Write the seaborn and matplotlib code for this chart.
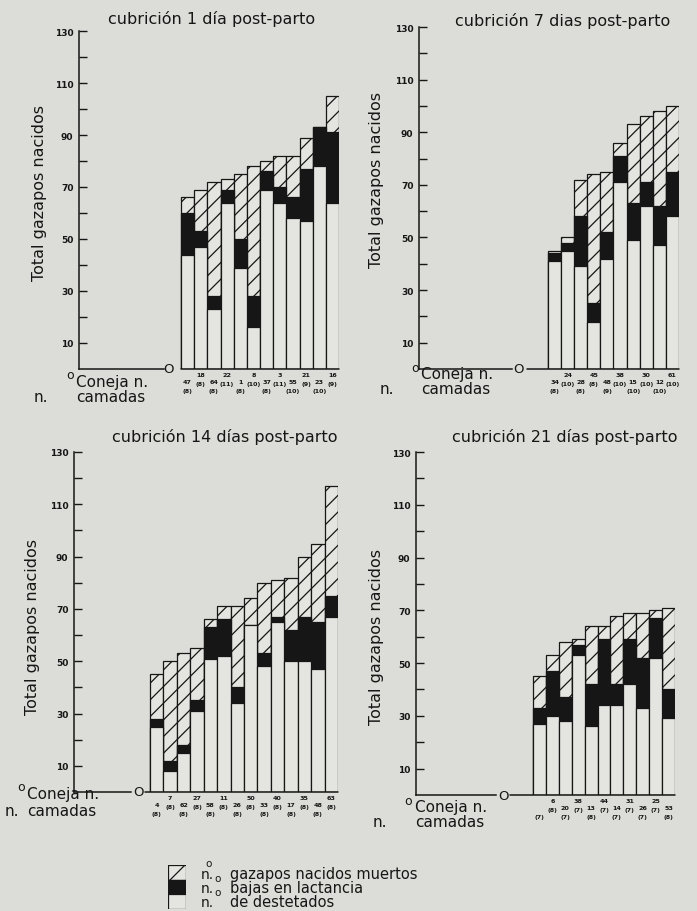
import numpy as np
import matplotlib.pyplot as plt
from matplotlib.patches import Rectangle
import seaborn as sns

# cubrición 1 día post-parto
p1_coneja = ['47', '18', '64', '22', '1', '8', '37', '3', '55', '21', '23', '16']
p1_camadas = ['8', '8', '8', '11', '8', '10', '8', '11', '10', '9', '10', '9']
p1_destetados = [44, 47, 23, 64, 39, 16, 69, 64, 58, 57, 78, 64]
p1_bajas = [16, 6, 5, 5, 11, 12, 7, 6, 8, 20, 15, 27]
p1_muertos = [6, 16, 44, 4, 25, 50, 4, 12, 16, 12, 0, 14]

# cubrición 7 días post-parto
p2_coneja = ['34', '24', '28', '45', '48', '38', '15', '30', '12', '61']
p2_camadas = ['8', '10', '8', '8', '9', '10', '10', '10', '10', '10']
p2_destetados = [41, 45, 39, 18, 42, 71, 49, 62, 47, 58]
p2_bajas = [3, 3, 19, 7, 10, 10, 14, 9, 15, 17]
p2_muertos = [1, 2, 14, 49, 23, 5, 30, 25, 36, 25]

# cubrición 14 días post-parto
p3_coneja = ['4', '7', '62', '27', '58', '11', '26', '50', '33', '40', '17', '35', '48', '63']
p3_camadas = ['8', '8', '8', '8', '8', '8', '8', '8', '8', '8', '8', '8', '8', '8']
p3_destetados = [25, 8, 15, 31, 51, 52, 34, 64, 48, 65, 50, 50, 47, 67]
p3_bajas = [3, 4, 3, 4, 12, 14, 6, 0, 5, 2, 12, 17, 18, 8]
p3_muertos = [17, 38, 35, 20, 3, 5, 31, 10, 27, 14, 20, 23, 30, 42]

# cubrición 21 días post-parto
p4_coneja = ['', '6', '20', '38', '13', '44', '14', '31', '26', '25', '53']
p4_camadas = ['7', '8', '7', '7', '8', '7', '7', '7', '7', '7', '8']
p4_destetados = [27, 30, 28, 53, 26, 34, 34, 42, 33, 52, 29]
p4_bajas = [6, 17, 9, 4, 16, 25, 8, 17, 19, 15, 11]
p4_muertos = [12, 6, 21, 2, 22, 5, 26, 10, 17, 3, 31]

titles = ['cubrición 1 día post-parto', 'cubrición 7 dias post-parto',
          'cubrición 14 días post-parto', 'cubrición 21 días post-parto']
ytick_vals = [10, 30, 50, 70, 90, 110, 130]

BG = '#dcdcd8'
FILL = '#e4e4e0'
INK = '#161616'
W, H = 697, 912

sns.set_style('ticks', {'axes.facecolor': 'none', 'figure.facecolor': BG})
plt.rcParams['font.family'] = ['DejaVu Sans']
plt.rcParams['hatch.linewidth'] = 0.9
plt.rcParams['hatch.color'] = INK

fig = plt.figure(figsize=(W / 100, H / 100), dpi=100, facecolor=BG)


def ftxt(x, y, s, **kw):
    fig.text(x / W, 1 - y / H, s, color=INK, **kw)


# layout in pixels: left, top, right, bottom, bars start, spine end, "O", line restart
layouts = [
    dict(box=(79, 32, 339, 370), bars=181, sp_end=164, o=169, restart=181),
    dict(box=(419, 28, 679, 370), bars=548, sp_end=512, o=519, restart=527),
    dict(box=(74, 453, 338, 793), bars=150, sp_end=131, o=138, restart=145),
    dict(box=(416, 453, 675, 796), bars=533, sp_end=496, o=503, restart=510),
]

panels = [
    (p1_coneja, p1_camadas, p1_destetados, p1_bajas, p1_muertos),
    (p2_coneja, p2_camadas, p2_destetados, p2_bajas, p2_muertos),
    (p3_coneja, p3_camadas, p3_destetados, p3_bajas, p3_muertos),
    (p4_coneja, p4_camadas, p4_destetados, p4_bajas, p4_muertos),
]

for lay, (coneja, camadas, dest, bajas, muertos) in zip(layouts, panels):
    l, t, r, b = lay['box']
    ax = fig.add_axes([l / W, 1 - b / H, (r - l) / W, (b - t) / H])
    n = len(dest)
    pos = np.arange(n)
    dest = np.array(dest)
    mid = dest + np.array(bajas)
    total = mid + np.array(muertos)

    common = dict(native_scale=True, width=1, saturation=1, errorbar=None,
                  edgecolor=INK, linewidth=0.9, ax=ax)
    sns.barplot(x=pos, y=total, color=FILL, hatch='//', **common)
    sns.barplot(x=pos, y=mid, color=INK, **common)
    sns.barplot(x=pos, y=dest, color=FILL, **common)

    barw = (r - lay['bars']) / n
    to_data = lambda px: -0.5 + (px - lay['bars']) / barw
    x0 = to_data(l)
    ax.set_xlim(x0, n - 0.5)
    ax.set_ylim(0, 130)

    # y axis
    ax.set_yticks(ytick_vals)
    ax.set_yticklabels([str(v) for v in ytick_vals], fontsize=6.5, fontweight='bold')
    ax.set_yticks([20, 40, 60, 80, 100, 120], minor=True)
    ax.tick_params(axis='y', which='both', direction='in', length=6, width=1,
                   color=INK, labelcolor=INK, pad=4)
    ax.set_ylabel('')
    ax.set_xlabel('')

    # broken x axis with "O"
    for s in ['top', 'right']:
        ax.spines[s].set_visible(False)
    ax.spines['left'].set_color(INK)
    ax.spines['left'].set_linewidth(1.1)
    ax.spines['bottom'].set_color(INK)
    ax.spines['bottom'].set_linewidth(1.1)
    ax.spines['bottom'].set_bounds(x0, to_data(lay['sp_end']))
    x_rs = to_data(lay['restart'])
    ax.axhline(0, xmin=(x_rs - x0) / (n - 0.5 - x0), xmax=1, color=INK, lw=1.1,
               clip_on=False)
    ax.text(to_data(lay['o']), 0, 'O', ha='center', va='center', fontsize=9.5,
            color=INK, clip_on=False)

    # staggered coneja / camadas labels
    labels = [f'{c}\n({m})' for c, m in zip(coneja, camadas)]
    ax.set_xticks(pos[::2])
    ax.set_xticklabels(labels[::2])
    ax.set_xticks(pos[1::2], minor=True)
    ax.set_xticklabels(labels[1::2], minor=True)
    ax.tick_params(axis='x', which='major', length=0, pad=7.5, labelsize=4.6)
    ax.tick_params(axis='x', which='minor', length=0, pad=2, labelsize=4.6)
    for tl in ax.get_xticklabels() + ax.get_xticklabels(minor=True):
        tl.set_linespacing(1.95)
        tl.set_fontweight('bold')
        tl.set_color(INK)

# titles
ftxt(212, 19, titles[0], ha='center', va='center', fontsize=11.5)
ftxt(563, 21, titles[1], ha='center', va='center', fontsize=11.5)
ftxt(225, 437, titles[2], ha='center', va='center', fontsize=11.5)
ftxt(565, 437, titles[3], ha='center', va='center', fontsize=11.5)

# y labels
for (x, y) in [(40, 193), (377, 180), (33, 627), (377, 637)]:
    ftxt(x, y, 'Total gazapos nacidos', ha='center', va='center', rotation=90,
         fontsize=11.5)

# "n.º Coneja n." / "n.º camadas"
for (ox, oy, cx, cy, nx, ny) in [(70, 376, 76, 382, 34, 398),
                                 (415, 369, 421, 375, 380, 390),
                                 (21, 788, 27, 795, 5, 812),
                                 (408, 802, 415, 808, 373, 823)]:
    ftxt(ox, oy, 'o', ha='center', va='center', fontsize=9)
    ftxt(cx, cy, 'Coneja n.', ha='left', va='center', fontsize=11)
    ftxt(nx, ny, 'n.', ha='left', va='center', fontsize=11)
    ftxt(cx, ny, 'camadas', ha='left', va='center', fontsize=11)

# legend
lax = fig.add_axes([168 / W, 1 - 910 / H, 18 / W, 44 / H])
lax.set_axis_off()
lax.set_xlim(0, 1)
lax.set_ylim(0, 3)
lax.add_patch(Rectangle((0, 2), 1, 1, facecolor=FILL, edgecolor=INK, hatch='//', lw=0.9))
lax.add_patch(Rectangle((0, 1), 1, 1, facecolor=INK, edgecolor=INK, lw=0.9))
lax.add_patch(Rectangle((0, 0), 1, 1, facecolor=FILL, edgecolor=INK, lw=0.9))

leg_rows = [('gazapos nacidos muertos', 875), ('bajas en lactancia', 889),
            ('de destetados', 903)]
for txt, y in leg_rows:
    ftxt(201, y, 'n.', ha='left', va='center', fontsize=10)
    ftxt(230, y, txt, ha='left', va='center', fontsize=10.5)
ftxt(209, 864, 'o', ha='center', va='center', fontsize=7.5)
ftxt(218, 879, 'o', ha='center', va='center', fontsize=7.5)
ftxt(218, 893, 'o', ha='center', va='center', fontsize=7.5)

fig.savefig('out.png', dpi=100, facecolor=BG)
